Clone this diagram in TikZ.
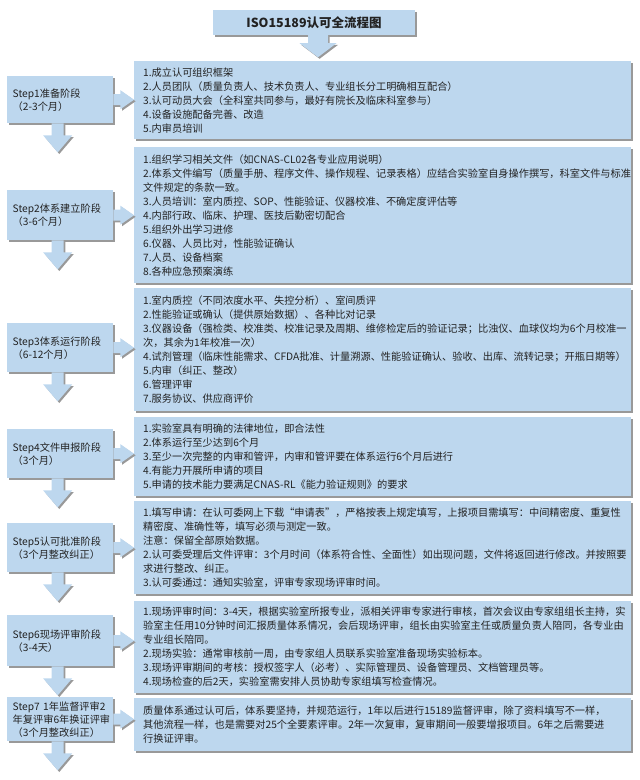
\documentclass[tikz,border=0pt]{standalone}
\usepackage{fontspec}
\setmainfont{Noto Sans CJK SC}
\usetikzlibrary{calc,shadows}

\definecolor{boxblue}{HTML}{BDD7EE}
\definecolor{inktext}{HTML}{222222}
\exhyphenpenalty=10000
\hyphenpenalty=10000

% block arrow below a step box
\newcommand{\downblock}[1]{%
  \fill[arrowfill] ($(#1.south)+(-8.5,0)$) -- ++(0,12) -- ++(-8.5,0) -- ++(14.5,17)
    -- ++(14.5,-17) -- ++(-8.5,0) -- ++(0,-12) -- cycle;}
% block arrow from a step box to its list
\newcommand{\rightblock}[2]{%
  \fill[arrowfill] ($(#1.east)+(0,-5.5)$) -- ++(7,0) -- ++(0,-4) -- (#1.east -| #2.west)
    -- ($(#1.east)+(7,9.5)$) -- ++(0,-4) -- ++(-7,0) -- cycle;}

\tikzset{
  boxshadow/.style={drop shadow={shadow xshift=1.6pt,shadow yshift=-1.6pt,fill=black!40,opacity=1}},
  titlebox/.style={fill=boxblue,boxshadow,minimum width=202pt,minimum height=25pt,inner sep=0pt,
    text=inktext,font=\fontsize{12.5}{14}\selectfont\bfseries},
  stepbox/.style={fill=boxblue,boxshadow,anchor=north west,text width=95pt,inner xsep=5.5pt,
    inner ysep=1pt,align=left,text=inktext,font=\fontsize{10.2}{13}\selectfont},
  listbox/.style={fill=boxblue,boxshadow,anchor=north west,text width=479pt,inner xsep=9pt,
    inner ysep=1pt,align=left,text=inktext,font=\fontsize{10.2}{14}\selectfont},
  arrowfill/.style={fill=boxblue,boxshadow}
}

\begin{document}
\begin{tikzpicture}[x=1pt,y=-1pt]
    \useasboundingbox (0,0) rectangle (640,780);

    \node[titlebox] (title) at (314,22.5) {ISO15189认可全流程图};
    \fill[arrowfill] ($(title.south)+(-6,0)$) -- ++(0,8) -- ++(-8.5,0) -- ++(18.5,14)
        -- ++(18.5,-14) -- ++(-8.5,0) -- ++(0,-8) -- cycle;

    % steps on the left
    \node[stepbox,minimum height=47pt] (step1) at (7,76) {Step1准备阶段\\（2-3个月）};
    \node[stepbox,minimum height=50pt] (step2) at (7,190) {Step2体系建立阶段\\（3-6个月）};
    \node[stepbox,minimum height=49pt] (step3) at (7,323) {Step3体系运行阶段\\（6-12个月）};
    \node[stepbox,minimum height=49pt] (step4) at (7,429) {Step4文件申报阶段\\（3个月）};
    \node[stepbox,minimum height=49pt] (step5) at (7,523) {Step5认可批准阶段\\（3个月整改纠正）};
    \node[stepbox,minimum height=51pt] (step6) at (7,615) {Step6现场评审阶段\\（3-4天）};
    \node[stepbox,minimum height=44pt] (step7) at (7,697) {Step7 1年监督评审2\\年复评审6年换证评审\\（3个月整改纠正）};

    % lists on the right
    \node[listbox,minimum height=78pt] (box1) at (134,61) {1.成立认可组织框架\\
        2.人员团队（质量负责人、技术负责人、专业组长分工明确相互配合）\\
        3.认可动员大会（全科室共同参与，最好有院长及临床科室参与）\\
        4.设备设施配备完善、改造\\
        5.内审员培训};
    \node[listbox,minimum height=136pt] (box2) at (134,147) {1.组织学习相关文件（如CNAS-CL02各专业应用说明）\\
        2.体系文件编写（质量手册、程序文件、操作规程、记录表格）应结合实验室自身操作撰写，科室文件与标准\\
        文件规定的条款一致。\\
        3.人员培训：室内质控、SOP、性能验证、仪器校准、不确定度评估等\\
        4.内部行政、临床、护理、医技后勤密切配合\\
        5.组织外出学习进修\\
        6.仪器、人员比对，性能验证确认\\
        7.人员、设备档案\\
        8.各种应急预案演练};
    \node[listbox,minimum height=123pt] (box3) at (134,288) {1.室内质控（不同浓度水平、失控分析）、室间质评\\
        2.性能验证或确认（提供原始数据）、各种比对记录\\
        3.仪器设备（强检类、校准类、校准记录及周期、维修检定后的验证记录；比浊仪、血球仪均为6个月校准一\\
        次，其余为1年校准一次）\\
        4.试剂管理（临床性能需求、CFDA批准、计量溯源、性能验证确认、验收、出库、流转记录；开瓶日期等）\\
        5.内审（纠正、整改）\\
        6.管理评审\\
        7.服务协议、供应商评价};
    \node[listbox,minimum height=79pt] (box4) at (134,417) {1.实验室具有明确的法律地位，即合法性\\
        2.体系运行至少达到6个月\\
        3.至少一次完整的内审和管评，内审和管评要在体系运行6个月后进行\\
        4.有能力开展所申请的项目\\
        5.申请的技术能力要满足CNAS-RL《能力验证规则》的要求};
    \node[listbox,minimum height=93pt] (box5) at (134,501) {1.填写申请：在认可委网上下载“申请表”，严格按表上规定填写，上报项目需填写：中间精密度、重复性\\
        精密度、准确性等，填写必须与测定一致。\\
        注意：保留全部原始数据。\\
        2.认可委受理后文件评审：3个月时间（体系符合性、全面性）如出现问题，文件将返回进行修改。并按照要\\
        求进行整改、纠正。\\
        3.认可委通过：通知实验室，评审专家现场评审时间。};
    \node[listbox,minimum height=92pt] (box6) at (134,601) {1.现场评审时间：3-4天，根据实验室所报专业，派相关评审专家进行审核，首次会议由专家组组长主持，实\\
        验室主任用10分钟时间汇报质量体系情况，会后现场评审，组长由实验室主任或质量负责人陪同，各专业由\\
        专业组长陪同。\\
        2.现场实验：通常审核前一周，由专家组人员联系实验室准备现场实验标本。\\
        3.现场评审期间的考核：授权签字人（必考）、实际管理员、设备管理员、文档管理员等。\\
        4.现场检查的后2天，实验室需安排人员协助专家组填写检查情况。};
    \node[listbox,minimum height=53pt] (box7) at (134,698) {质量体系通过认可后，体系要坚持，并规范运行，1年以后进行15189监督评审，除了资料填写不一样，\\
        其他流程一样，也是需要对25个全要素评审。2年一次复审，复审期间一般要增报项目。6年之后需要进\\
        行换证评审。};

    \foreach \n in {1,...,7}
    {
        \rightblock{step\n}{box\n}
        \downblock{step\n}
    }
\end{tikzpicture}
\end{document}
